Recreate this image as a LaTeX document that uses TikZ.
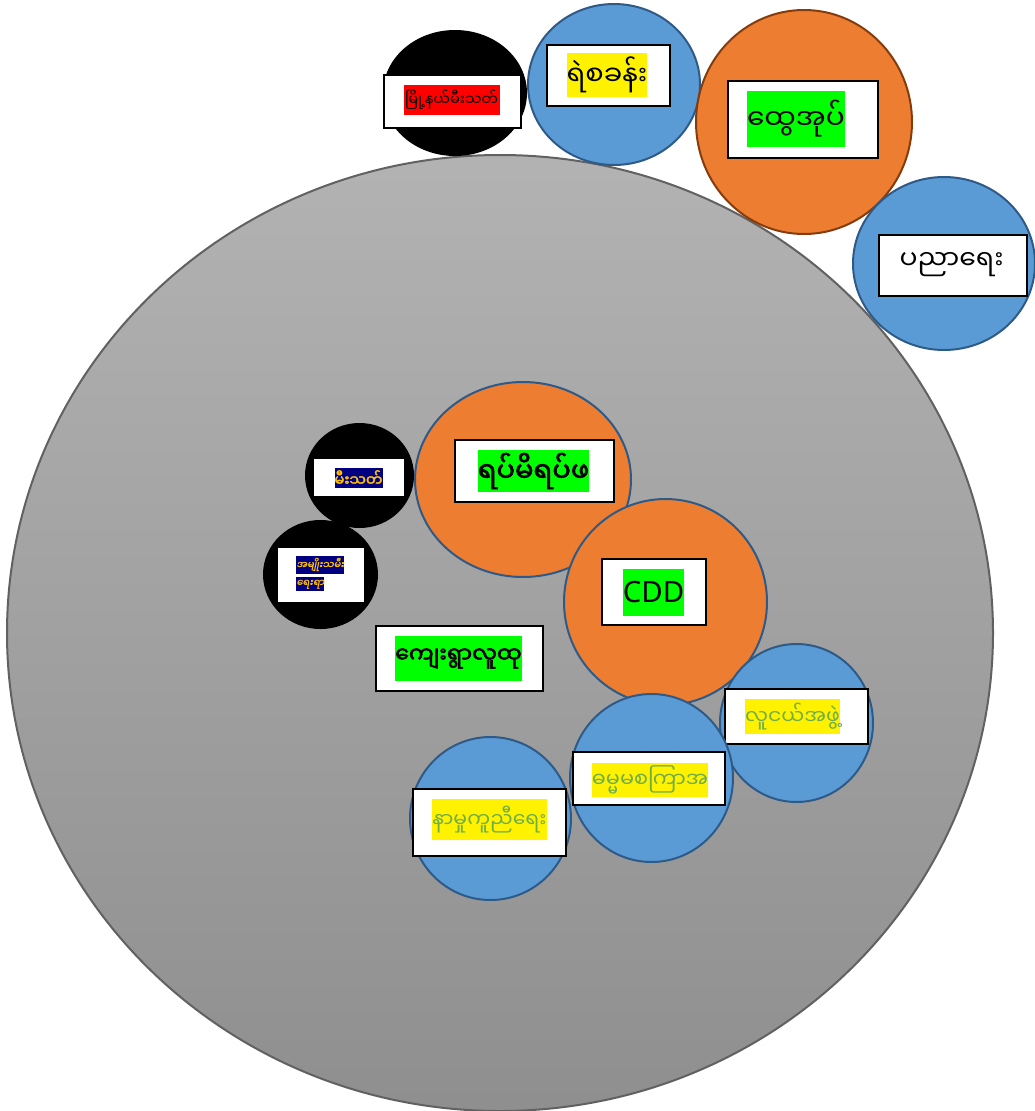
\documentclass[tikz,border=0pt]{standalone}
\usepackage{fontspec}
\newfontfamily\mmfont[Script=Myanmar]{Noto Sans Myanmar UI}
\newfontfamily\mmbold[Script=Myanmar,FakeBold=2.5]{Noto Sans Myanmar UI}
\newfontfamily\mmslant[Script=Myanmar,FakeSlant=0.2,FakeBold=1]{Noto Sans Myanmar UI}
\newfontfamily\latfont{Noto Sans}
\usetikzlibrary{positioning}

\definecolor{discblue}{HTML}{5B9BD5}
\definecolor{discline}{HTML}{2E5A88}
\definecolor{discorange}{HTML}{ED7D31}
\definecolor{brownline}{HTML}{843C0C}
\definecolor{navy}{HTML}{000080}
\definecolor{gold}{HTML}{FFC000}
\definecolor{olive}{HTML}{70AD47}
\definecolor{limegreen}{HTML}{00FF00}

\tikzset{bluedisc/.style={fill=discblue, draw=discline, line width=1.5}}
\tikzset{orangedisc/.style={fill=discorange, draw=discline, line width=1.5}}
\tikzset{blackdisc/.style={fill=black}}
\tikzset{tagbox/.style={draw=black, fill=white, line width=0.9, inner sep=0pt}}
\tikzset{sz/.style n args={2}{minimum width=#1*0.75pt, minimum height=#2*0.75pt}}
\tikzset{hilite/.style={inner xsep=0pt, inner ysep=0pt}}

\begin{document}
\begin{tikzpicture}[x=0.75pt,y=-0.75pt]
\useasboundingbox (0,0) rectangle (1035,1111);

% the big grey disc
\shade[top color=black!30, bottom color=black!44, draw=black!62, line width=1.5]
  (500,633) ellipse [x radius=493, y radius=478];

% top row
\fill[blackdisc] (455,93) ellipse [x radius=72, y radius=63];
\node[tagbox, sz={137}{53}] (firebox) at (452.5,101.5) {};
\node[hilite, fill=red, sz={96}{30}] (firetxt) at (451.5,100)
  {\mmfont\fontsize{11}{11}\selectfont မြို့နယ်မီးသတ်};

\filldraw[bluedisc] (614,84.5) ellipse [x radius=86, y radius=80.5];
\node[tagbox, sz={123}{61}] (policebox) at (608.5,75.5) {};
\node[hilite, fill=yellow, sz={10}{44}] (policetxt) at (607,75)
  {\mmfont\fontsize{20.5}{20.5}\selectfont ရဲစခန်း};

\filldraw[orangedisc, draw=brownline] (804,122) ellipse [x radius=108, y radius=112];
\node[tagbox, sz={150}{77}] (gadbox) at (803,119.5) {};
\node[hilite, fill=limegreen, sz={10}{56}] (gadtxt) at (796,119)
  {\mmfont\fontsize{21}{21}\selectfont ထွေအုပ်};

\filldraw[bluedisc] (944,263.5) ellipse [x radius=91, y radius=86.5];
\node[tagbox, sz={148}{61}] (edubox) at (953,265.5) {};
\node[hilite, fill=white, sz={10}{40}] (edutxt) at (951.5,265)
  {\mmfont\fontsize{20}{20}\selectfont ပညာရေး};

% inner group
\fill[blackdisc] (359.5,475.5) ellipse [x radius=54.5, y radius=52.5];
\node[tagbox, sz={92}{39}] (firebox2) at (359,477.5) {};
\node[hilite, fill=navy, text=gold, sz={10}{20}] (firetxt2) at (358.5,478)
  {\mmbold\fontsize{11}{11}\selectfont မီးသတ်};

\filldraw[orangedisc] (523,479.5) ellipse [x radius=108, y radius=97.5];
\node[tagbox, sz={159}{62}] (wardbox) at (534.5,471) {};
\node[hilite, fill=limegreen, sz={10}{42}] (wardtxt) at (533.5,471)
  {\mmbold\fontsize{20.5}{20.5}\selectfont ရပ်မိရပ်ဖ};

\fill[blackdisc] (320.5,574.5) ellipse [x radius=57.5, y radius=54.5];
\node[tagbox, sz={88}{56}] (womenbox) at (321,575) {};
\node[hilite, fill=navy, text=gold, sz={10}{18}] (womentxt) at (320,564.5)
  {\mmslant\fontsize{7.5}{7.5}\selectfont အမျိုးသမီး};
\node[hilite, fill=navy, text=gold, sz={10}{14}, below=2.5pt of womentxt.south west, anchor=north west] (womentxt2)
  {\mmslant\fontsize{7.5}{7.5}\selectfont ရေးရာ};

\filldraw[orangedisc] (665.5,602) ellipse [x radius=101.5, y radius=103];
\node[tagbox, sz={104}{66}] (cddbox) at (654,592) {};
\node[hilite, fill=limegreen, sz={10}{47}] (cddtxt) at (653.5,592.5)
  {\latfont\fontsize{22}{22}\selectfont CDD};

\node[tagbox, sz={167}{65}] (villbox) at (459.5,658.5) {};
\node[hilite, fill=limegreen, sz={10}{45}] (villtxt) at (458.5,658.5)
  {\mmbold\fontsize{16.5}{16.5}\selectfont ကျေးရွာလူထု};

\filldraw[bluedisc] (796.5,723) ellipse [x radius=76.5, y radius=79];
\node[tagbox, sz={143}{55}] (youthbox) at (796.5,716.5) {};
\node[hilite, fill=yellow, text=olive, sz={10}{35}] (youthtxt) at (792.5,716.5)
  {\mmfont\fontsize{15.3}{15.3}\selectfont လူငယ်အဖွဲ့};

\filldraw[bluedisc] (651.5,778) ellipse [x radius=81.5, y radius=84];
\node[tagbox, sz={152}{53}] (dhammabox) at (649,778.5) {};
\node[hilite, fill=yellow, text=olive, sz={10}{34}] (dhammatxt) at (650,780)
  {\mmfont\fontsize{15.6}{15.6}\selectfont ဓမ္မမစကြာအ};

\filldraw[bluedisc] (490.5,818.5) ellipse [x radius=80.5, y radius=81.5];
\node[tagbox, sz={153}{67}] (reliefbox) at (489.5,822.5) {};
\node[hilite, fill=yellow, text=olive, sz={10}{41}] (relieftxt) at (489.5,819.5)
  {\mmfont\fontsize{15.3}{15.3}\selectfont နာမှုကူညီရေး};

\end{tikzpicture}
\end{document}
